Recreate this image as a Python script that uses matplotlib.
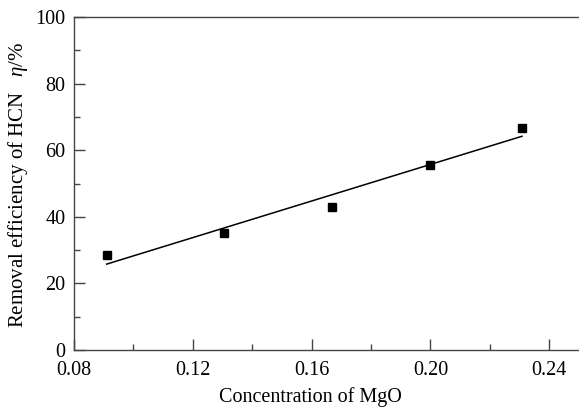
import numpy as np
import matplotlib
matplotlib.use("Agg")
import matplotlib.pyplot as plt
from matplotlib.ticker import MultipleLocator

plt.rcParams['font.family'] = ['Liberation Serif', 'DejaVu Serif']
plt.rcParams['mathtext.fontset'] = 'custom'
plt.rcParams['mathtext.rm'] = 'Liberation Serif'
plt.rcParams['mathtext.it'] = 'Liberation Serif:italic'

conc = [0.091, 0.1304, 0.1667, 0.200, 0.2308]
eff = [28.5, 35.2, 43.0, 55.5, 66.7]
xticks = [0.08, 0.12, 0.16, 0.20, 0.24]
xticklabels = ['0.08', '0.12', '0.16', '0.20', '0.24']

fig = plt.figure(figsize=(5.79, 4.08), dpi=100)
ax = fig.add_axes([74/579, 58/408, 1 - 74/579, (350-17)/408])

ax.plot(conc, eff, 's', color='black', markersize=6)
k, b = np.polyfit(conc, eff, 1)
xs = np.array([min(conc), max(conc)])
ax.plot(xs, k*xs + b, '-', color='black', lw=1.1)

ax.set_xlim(0.08, 0.25)
ax.set_ylim(0, 100)
ax.xaxis.set_minor_locator(MultipleLocator(0.02))
ax.yaxis.set_major_locator(MultipleLocator(20))
ax.yaxis.set_minor_locator(MultipleLocator(10))
ax.set_xticks(xticks)
ax.set_xticklabels(xticklabels)

spc = '#444444'
for s in ['left', 'bottom', 'top']:
    ax.spines[s].set_color(spc)
    ax.spines[s].set_linewidth(1.0)
ax.spines['right'].set_visible(False)

ax.tick_params(which='major', direction='in', length=8, width=1, color=spc,
               labelsize=14.5, labelcolor='black', top=False, right=False)
ax.tick_params(axis='x', which='major', pad=8)
ax.tick_params(axis='y', which='major', pad=6)
ax.tick_params(which='minor', direction='in', length=4, width=1, color=spc,
               top=False, right=False)

ax.set_xlabel('Concentration of MgO', fontsize=14.5)
ax.set_ylabel('Removal efficiency of HCN   $\\it{\\eta}$/%', fontsize=15)
ax.xaxis.set_label_coords(236/505, -0.112)
ax.yaxis.set_label_coords(-0.088, 0.497)

fig.savefig('out.png', dpi=100)
